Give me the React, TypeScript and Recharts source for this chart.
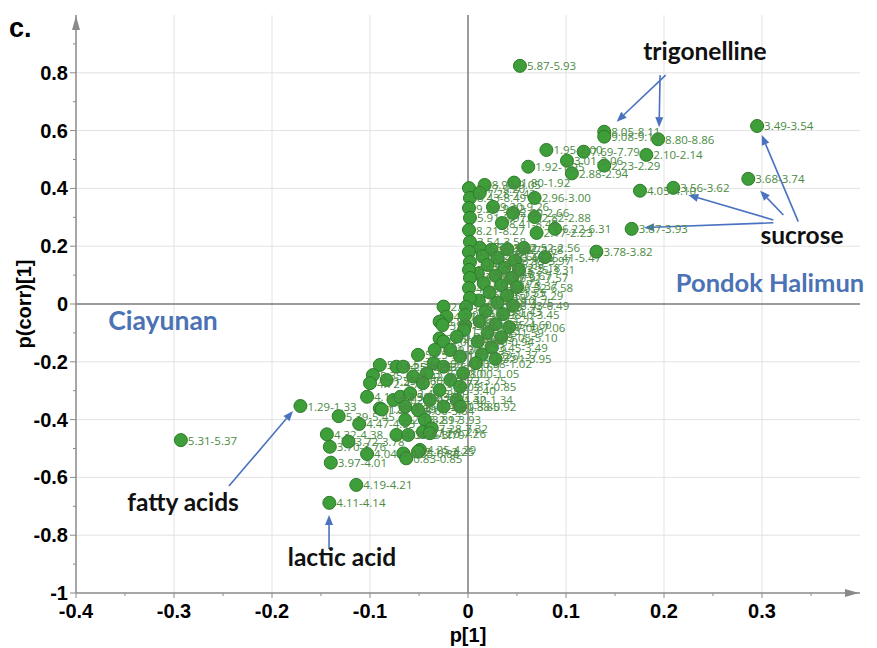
import { ScatterChart, Scatter, XAxis, YAxis, ReferenceLine, ReferenceDot } from 'recharts';

// [p[1], p(corr)[1], bin label]
type Bin = [number, number, string];

// bins that stand out on the Pondok Halimun side
const highBins: Bin[] = [
  [0.053, 0.824, '5.87-5.93'],
  [0.295, 0.616, '3.49-3.54'],
  [0.286, 0.433, '3.68-3.74'],
  [0.2095, 0.402, '3.56-3.62'],
  [0.1755, 0.392, '4.05-4.10'],
  [0.167, 0.26, '3.87-3.93'],
  [0.131, 0.181, '3.78-3.82'],
  [0.194, 0.57, '8.80-8.86'],
  [0.139, 0.596, '8.05-8.11'],
  [0.139, 0.579, '9.08-9.14'],
  [0.182, 0.516, '2.10-2.14'],
  [0.139, 0.479, '2.23-2.29'],
  [0.08, 0.533, '1.95-2.00'],
  [0.118, 0.527, '7.69-7.79'],
  [0.101, 0.496, '3.01-3.06'],
  [0.0615, 0.475, '1.92-1.95'],
  [0.106, 0.452, '2.88-2.94'],
  [0.047, 0.42, '1.80-1.92'],
  [0.017, 0.412, '8.99-9.05'],
  [0.012, 0.384, '7.28-7.43'],
  [0.0255, 0.336, '9.20-9.26'],
  [0.046, 0.315, '2.60-2.66'],
  [0.068, 0.367, '2.96-3.00'],
  [0.068, 0.301, '2.82-2.88'],
  [0.0347, 0.28, '8.41-8.49'],
  [0.07, 0.246, '2.17-2.23'],
  [0.0888, 0.26, '6.22-6.31'],
  [0.0786, 0.162, '5.41-5.47'],
];

// near-zero p[1] column
const columnBins: Bin[] = [
  [0.001, 0.401, '9.17-9.20'],
  [0.002, 0.367, '8.43-8.49'],
  [0.001, 0.332, '9.26-9.32'],
  [0.002, 0.298, '5.91-5.97'],
  [0.001, 0.256, '8.21-8.27'],
  [0.002, 0.215, '3.54-3.58'],
  [0.001, 0.18, '5.62-5.68'],
  [0.002, 0.145, '3.17-3.21'],
  [0.001, 0.118, '2.52-2.56'],
  [0.002, 0.09, '6.90-6.96'],
  [0.001, 0.055, '4.80-4.86'],
  [0.002, 0.021, '7.12-7.18'],
  [-0.002, -0.01, '1.59-1.63'],
  [-0.003, -0.038, '0.94-0.98'],
];

const midBins: Bin[] = [
  [0.012, 0.195, '3.58-3.62'],
  [0.024, 0.188, '5.68-5.74'],
  [0.04, 0.19, '2.62-2.68'],
  [0.057, 0.194, '2.52-2.56'],
  [0.015, 0.165, '3.62-3.66'],
  [0.03, 0.16, '4.60-4.66'],
  [0.048, 0.15, '3.93-3.97'],
  [0.02, 0.135, '6.03-6.09'],
  [0.037, 0.125, '5.12-5.18'],
  [0.052, 0.118, '3.25-3.31'],
  [0.01, 0.105, '2.40-2.46'],
  [0.028, 0.098, '6.61-6.67'],
  [0.045, 0.09, '7.51-7.57'],
  [0.016, 0.072, '1.69-1.73'],
  [0.034, 0.065, '3.31-3.37'],
  [0.05, 0.058, '6.52-6.58'],
  [0.022, 0.04, '1.51-1.55'],
  [0.04, 0.03, '5.23-5.29'],
  [0.011, 0.012, '2.07-2.10'],
  [0.03, 0.005, '4.69-4.75'],
  [0.046, -0.005, '6.43-6.49'],
  [0.018, -0.025, '1.39-1.43'],
  [0.036, -0.035, '3.40-3.45'],
  [0.012, -0.06, '1.17-1.21'],
  [0.028, -0.07, '4.55-4.60'],
  [0.042, -0.08, '7.00-7.06'],
  [0.02, -0.1, '1.55-1.59'],
  [0.034, -0.115, '5.05-5.10'],
  [0.01, -0.13, '0.90-0.94'],
  [0.024, -0.15, '3.45-3.49'],
  [0.014, -0.175, '1.33-1.37'],
  [0.028, -0.19, '3.91-3.95'],
  [0.008, -0.205, '0.98-1.02'],
];

const lowBins: Bin[] = [
  [-0.025, -0.009, '2.00-2.04'],
  [-0.022, -0.044, '4.27-4.32'],
  [-0.029, -0.061, '3.85-3.89'],
  [-0.026, -0.073, '3.81-3.85'],
  [-0.003, -0.073, '1.13-1.17'],
  [-0.004, -0.09, '1.09-1.13'],
  [-0.029, -0.119, '7.32-7.38'],
  [-0.025, -0.13, '4.00-4.04'],
  [-0.034, -0.159, '3.29-3.33'],
  [-0.018, -0.159, '1.26-1.29'],
  [-0.0115, -0.113, '0.85-0.89'],
  [-0.051, -0.176, '5.25-5.31'],
  [-0.008, -0.182, '1.21-1.25'],
  [-0.09, -0.211, '5.33-5.39'],
  [-0.073, -0.217, '4.25-4.29'],
  [-0.066, -0.217, '4.57-4.62'],
  [-0.035, -0.205, '3.99-4.03'],
  [-0.025, -0.217, '3.65-3.69'],
  [-0.097, -0.246, '5.35-5.41'],
  [-0.056, -0.251, '4.42-4.47'],
  [-0.042, -0.24, '3.76-3.80'],
  [-0.005, -0.24, '1.00-1.05'],
  [-0.1, -0.274, '4.72-4.78'],
  [-0.083, -0.263, '1.55-1.60'],
  [-0.046, -0.274, '2.71-2.77'],
  [-0.018, -0.263, '3.72-3.75'],
  [-0.008, -0.286, '0.81-0.85'],
  [-0.029, -0.298, '3.35-3.40'],
  [-0.103, -0.321, '4.14-4.19'],
  [-0.076, -0.332, '2.02-2.07'],
  [-0.069, -0.321, '2.30-2.35'],
  [-0.059, -0.309, '2.46-2.51'],
  [-0.039, -0.332, '4.38-4.42'],
  [-0.0115, -0.332, '1.30-1.34'],
  [-0.09, -0.361, '1.25-1.29'],
  [-0.088, -0.365, '1.37-1.41'],
  [-0.064, -0.355, '1.41-1.45'],
  [-0.051, -0.367, '3.60-3.64'],
  [-0.025, -0.355, '3.81-3.85'],
  [-0.008, -0.355, '0.88-0.92'],
  [-0.064, -0.401, '2.13-2.17'],
  [-0.044, -0.401, '3.89-3.93'],
  [-0.073, -0.453, '4.08-4.11'],
  [-0.061, -0.453, '3.66-3.70'],
  [-0.046, -0.442, '1.17-1.21'],
  [-0.037, -0.43, '7.28-7.32'],
  [-0.039, -0.447, '7.20-7.26'],
  [-0.049, -0.505, '4.25-4.29'],
  [-0.051, -0.511, '2.19-2.25'],
  [-0.066, -0.517, '0.85-0.88'],
  [-0.063, -0.534, '0.83-0.85'],
];

// bins that stand out on the Ciayunan side
const ciayunanBins: Bin[] = [
  [-0.293, -0.471, '5.31-5.37'],
  [-0.171, -0.353, '1.29-1.33'],
  [-0.132, -0.388, '5.39-5.45'],
  [-0.111, -0.415, '4.47-4.53'],
  [-0.144, -0.451, '4.32-4.38'],
  [-0.141, -0.494, '3.70-3.76'],
  [-0.122, -0.476, '3.72-3.78'],
  [-0.103, -0.519, '4.04-4.08'],
  [-0.14, -0.549, '3.97-4.01'],
  [-0.114, -0.626, '4.19-4.21'],
  [-0.1415, -0.688, '4.11-4.14'],
];

const xTicks = [-0.4, -0.35, -0.3, -0.25, -0.2, -0.15, -0.1, -0.05, 0, 0.05, 0.1, 0.15, 0.2, 0.25, 0.3, 0.35];
const yTicks = [-1, -0.9, -0.8, -0.7, -0.6, -0.5, -0.4, -0.3, -0.2, -0.1, 0, 0.1, 0.2, 0.3, 0.4, 0.5, 0.6, 0.7, 0.8, 0.9];
const xGrid = [-0.3, -0.2, -0.1, 0.1, 0.2, 0.3];
const yGrid = [-0.8, -0.6, -0.4, -0.2, 0.2, 0.4, 0.6, 0.8];

// annotation text: [p, pcorr, text, colour, size]
const annotations: [number, number, string, string, number][] = [
  [0.2418, 0.844, 'trigonelline', '#111', 24.5],
  [0.3408, 0.2076, 'sucrose', '#111', 24.5],
  [0.3082, 0.0415, 'Pondok Halimun', '#4a72b5', 25.5],
  [-0.3112, -0.09, 'Ciayunan', '#4a72b5', 26.5],
  [-0.2908, -0.716, 'fatty acids', '#111', 24.5],
  [-0.1286, -0.9066, 'lactic acid', '#111', 24.5],
];

// arrows: [fromP, fromPcorr, toP, toPcorr]
const arrows: [number, number, number, number][] = [
  [0.2017, 0.792, 0.1517, 0.631],
  [0.196, 0.792, 0.195, 0.612],
  [0.3116, 0.281, 0.1796, 0.264],
  [0.3116, 0.291, 0.2248, 0.377],
  [0.3218, 0.308, 0.298, 0.392],
  [0.337, 0.285, 0.2997, 0.585],
  [-0.2439, -0.63, -0.1786, -0.37],
  [-0.1418, -0.848, -0.1418, -0.73],
];

const points = [...lowBins, ...midBins, ...columnBins, ...ciayunanBins, ...highBins].map(([p, pcorr, bin]) => ({
  p,
  pcorr,
  bin,
}));

const tickFont = { fontFamily: '"Liberation Sans", Arial, sans-serif', fontWeight: 700, fontSize: 20, fill: '#000' };
const noteFont = { fontFamily: 'Lato, "Open Sans", sans-serif', fontWeight: 700 };
const axisGrey = '#8a8a8a';

const fmt = (v: number) => (v === 0 ? '0' : String(v));
const isMajor = (v: number, step: number) => Math.abs(Math.round(v / step) - v / step) < 1e-6;

const XTick = ({ x, y, payload }: any) => {
  const v = payload.value;
  const major = isMajor(v, 0.1);
  return (
    <g>
      <line x1={x} y1={y} x2={x} y2={y + (major ? 5 : 3)} stroke={axisGrey} />
      {major && (
        <text x={x} y={y + 25} textAnchor="middle" {...tickFont}>
          {fmt(v)}
        </text>
      )}
    </g>
  );
};

const YTick = ({ x, y, payload }: any) => {
  const v = payload.value;
  const major = isMajor(v, 0.2);
  return (
    <g>
      <line x1={x} y1={y} x2={x - (major ? 6 : 3)} y2={y} stroke={axisGrey} />
      {major && (
        <text x={x - 8} y={y + 7} textAnchor="end" {...tickFont}>
          {fmt(v)}
        </text>
      )}
    </g>
  );
};

const Dot = ({ cx, cy }: any) => (
  <circle cx={cx} cy={cy} r={6.5} fill="#3e9e3a" stroke="#2c7a2a" strokeWidth={1} />
);

const BinLabel = ({ cx, cy, payload }: any) => (
  <text x={cx + 7} y={cy + 4.5} fontFamily='"Open Sans", sans-serif' fontSize={11.5} fill="#4a8a42">
    {payload.bin}
  </text>
);

const Arrow = ({ x1, y1, x2, y2 }: any) => {
  const a = Math.atan2(y2 - y1, x2 - x1);
  const bx = x2 - 10 * Math.cos(a);
  const by = y2 - 10 * Math.sin(a);
  const ox = -Math.sin(a) * 4;
  const oy = Math.cos(a) * 4;
  return (
    <g>
      <line x1={x1} y1={y1} x2={bx} y2={by} stroke="#4a72c0" strokeWidth={1.6} />
      <polygon points={`${x2},${y2} ${bx + ox},${by + oy} ${bx - ox},${by - oy}`} fill="#4a72c0" />
    </g>
  );
};

export default function App() {
  return (
    <div style={{ position: 'absolute', left: 0, top: 0, width: 877, height: 648, background: '#fff' }}>
      <ScatterChart width={877} height={648} margin={{ top: 15, right: 17, bottom: 15, left: 0 }}>
        <XAxis
          type="number"
          dataKey="p"
          domain={[-0.4, 0.4]}
          ticks={xTicks}
          tick={<XTick />}
          tickLine={false}
          tickSize={0}
          tickMargin={0}
          interval={0}
          height={40}
          axisLine={{ stroke: axisGrey, strokeWidth: 1.5 }}
          allowDataOverflow
        />
        <YAxis
          type="number"
          dataKey="pcorr"
          domain={[-1, 1]}
          ticks={yTicks}
          tick={<YTick />}
          tickLine={false}
          tickSize={0}
          tickMargin={0}
          interval={0}
          width={76}
          axisLine={{ stroke: axisGrey, strokeWidth: 1.5 }}
          allowDataOverflow
        />
        {xGrid.map((v) => (
          <ReferenceLine key={`gx${v}`} x={v} stroke="#e2e2e2" strokeWidth={1} />
        ))}
        {yGrid.map((v) => (
          <ReferenceLine key={`gy${v}`} y={v} stroke="#e2e2e2" strokeWidth={1} />
        ))}
        <ReferenceLine x={0} stroke="#7a7a7a" strokeWidth={1.5} />
        <ReferenceLine y={0} stroke="#7a7a7a" strokeWidth={1.5} />

        <Scatter data={points} shape={<Dot />} isAnimationActive={false} />
        <Scatter data={points} shape={<BinLabel />} isAnimationActive={false} />

        {arrows.map(([x1, y1, x2, y2], i) => (
          <ReferenceLine
            key={`ar${i}`}
            segment={[{ x: x1, y: y1 }, { x: x2, y: y2 }]}
            ifOverflow="visible"
            shape={<Arrow />}
          />
        ))}
        {annotations.map(([x, y, text, color, size]) => (
          <ReferenceDot
            key={text}
            x={x}
            y={y}
            ifOverflow="visible"
            shape={({ cx, cy }: any) => (
              <text x={cx} y={cy} textAnchor="middle" fill={color} fontSize={size} {...noteFont}>
                {text}
              </text>
            )}
          />
        ))}
        {/* axis arrow heads */}
        <ReferenceDot
          x={0.4}
          y={-1}
          ifOverflow="visible"
          shape={({ cx, cy }: any) => (
            <polygon points={`${cx - 1},${cy} ${cx - 15},${cy - 4} ${cx - 15},${cy + 4}`} fill={axisGrey} />
          )}
        />
        <ReferenceDot
          x={-0.4}
          y={1}
          ifOverflow="visible"
          shape={({ cx, cy }: any) => (
            <polygon points={`${cx},${cy + 1} ${cx - 4},${cy + 15} ${cx + 4},${cy + 15}`} fill={axisGrey} />
          )}
        />
        {/* axis titles and panel letter */}
        <ReferenceDot
          x={0}
          y={-1}
          ifOverflow="visible"
          shape={({ cx, cy }: any) => (
            <text x={cx} y={cy + 49} textAnchor="middle" {...tickFont}>
              p[1]
            </text>
          )}
        />
        <ReferenceDot
          x={-0.4}
          y={0}
          ifOverflow="visible"
          shape={({ cx, cy }: any) => (
            <text
              x={cx - 45}
              y={cy}
              textAnchor="middle"
              transform={`rotate(-90, ${cx - 45}, ${cy})`}
              {...tickFont}
            >
              p(corr)[1]
            </text>
          )}
        />
        <ReferenceDot
          x={-0.4}
          y={1}
          ifOverflow="visible"
          shape={({ cx, cy }: any) => (
            <text x={cx - 67} y={cy + 22} {...tickFont} fontSize={27}>
              c.
            </text>
          )}
        />
      </ScatterChart>
    </div>
  );
}
